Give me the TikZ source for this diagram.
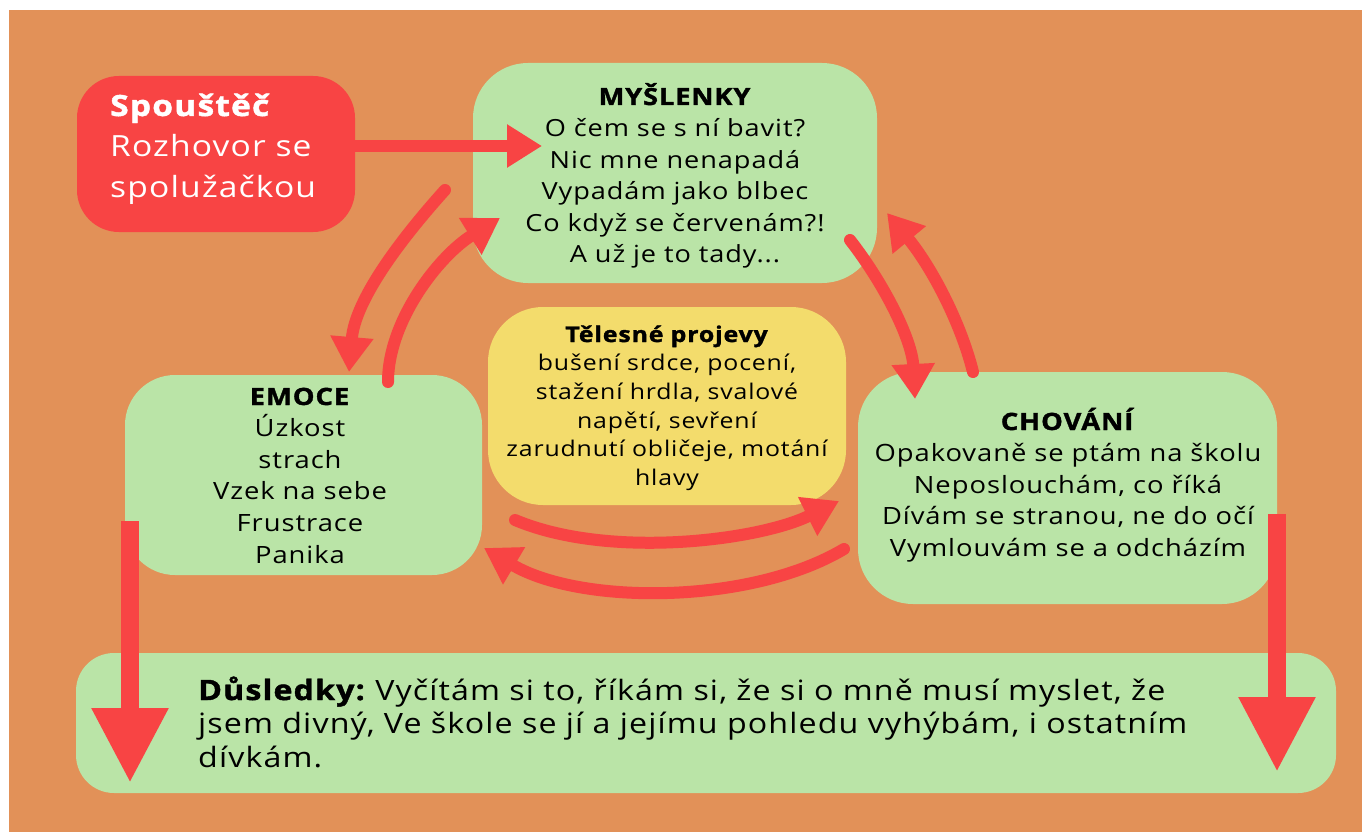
\documentclass[tikz,border=0pt]{standalone}
\usepackage{fontspec}
\setmainfont{Open Sans}[FakeStretch=1.15, LetterSpace=4, BoldFeatures={FakeBold=1.5}]
\usetikzlibrary{arrows.meta}
\definecolor{bgor}{RGB}{226,145,88}
\definecolor{rd}{RGB}{248,68,68}
\definecolor{gr}{RGB}{186,228,167}
\definecolor{yl}{RGB}{243,220,108}
\tikzset{
  box/.style={inner sep=0pt, draw=none},
  txt/.style={anchor=base, align=center, inner sep=0pt, text=black},
  carrow/.style={draw=rd, line width=12pt, line cap=round, -{Triangle[length=35pt,width=41pt]}},
  varrow/.style={draw=rd, line width=18pt, -{Triangle[length=75pt,width=72pt]}},
}
\frenchspacing
\begin{document}
\begin{tikzpicture}[x=1pt,y=-1pt]
\useasboundingbox (0,0) rectangle (1362,832);
\fill[white] (0,0) rectangle (1362,832);
\fill[bgor] (9,10) rectangle (1362,832);

% boxes
\node[box, fill=rd, rounded corners=42pt, minimum width=278pt, minimum height=156pt] (spo) at (216,154) {};
\node[box, fill=gr, rounded corners=55pt, minimum width=404pt, minimum height=220pt] (mys) at (675,173) {};
\node[box, fill=yl, rounded corners=55pt, minimum width=358pt, minimum height=198pt] (tel) at (667,406) {};
\node[box, fill=gr, rounded corners=50pt, minimum width=357pt, minimum height=200pt] (emo) at (303.5,475) {};
\node[box, fill=gr, rounded corners=55pt, minimum width=419pt, minimum height=232pt] (cho) at (1067.5,488) {};
\node[box, fill=gr, rounded corners=38pt, minimum width=1260pt, minimum height=140pt] (dus) at (706,723) {};

% connector end points
\coordinate (a1s) at (355,146);  \coordinate (a1e) at (542,146);
\coordinate (a2s) at (445,190);  \coordinate (a2e) at (349,372);
\coordinate (a3s) at (388,382);  \coordinate (a3e) at (500,218);
\coordinate (a4s) at (850,240);  \coordinate (a4e) at (915,399);
\coordinate (a5s) at (973,372);  \coordinate (a5e) at (887,213);
\coordinate (a6s) at (515,520);  \coordinate (a6e) at (839,501);
\coordinate (a7s) at (844,549);  \coordinate (a7e) at (484,548);
\coordinate (a8s) at (130,521);  \coordinate (a8e) at (130,783);
\coordinate (a9s) at (1277,514); \coordinate (a9e) at (1277,772);

% connectors
\draw[carrow] (a1s) -- (a1e);
\draw[carrow] (a2s) .. controls (400,240) and (355,300) .. (a2e);
\draw[carrow] (a3s) .. controls (388,320) and (440,255) .. (a3e);
\draw[carrow] (a4s) .. controls (885,285) and (912,340) .. (a4e);
\draw[carrow] (a5s) .. controls (960,320) and (930,265) .. (a5e);
\draw[carrow] (a6s) .. controls (610,560) and (760,540) .. (a6e);
\draw[carrow] (a7s) .. controls (750,605) and (580,605) .. (a7e);
\draw[varrow] (a8s) -- (a8e);
\draw[varrow] (a9s) -- (a9e);

% texts
\node[anchor=base west, align=left, inner sep=0pt, text width=260pt, text=white,
      font=\fontsize{29.2}{41}\selectfont] (spoT) at (110,116)
  {\textbf{Spouštěč}\\Rozhovor se\\spolužačkou};

\node[txt, text width=400pt, font=\fontsize{23.6}{31.6}\selectfont] (mysT) at (675,105)
  {\textbf{MYŠLENKY}\\O čem se s ní bavit?\\Nic mne nenapadá\\Vypadám jako blbec\\Co když se červenám?!\\A už je to tady...};

\node[txt, text width=350pt, font=\fontsize{21.6}{28.7}\selectfont] (telT) at (667,342)
  {\textbf{Tělesné projevy}\\bušení srdce, pocení,\\stažení hrdla, svalové\\napětí, sevření\\zarudnutí obličeje, motání\\hlavy};

\node[txt, text width=350pt, font=\fontsize{23.8}{31.6}\selectfont] (emoT) at (300,405)
  {\textbf{EMOCE}\\Úzkost\\strach\\Vzek na sebe\\Frustrace\\Panika};

\node[txt, text width=410pt, font=\fontsize{23.8}{31.6}\selectfont] (choT) at (1068,430)
  {\textbf{CHOVÁNÍ}\\Opakovaně se ptám na školu\\Neposlouchám, co říká\\Dívám se stranou, ne do očí\\Vymlouvám se a odcházím};

\node[anchor=base west, align=left, inner sep=0pt, text width=1100pt, text=black,
      font=\fontsize{28}{33.5}\selectfont] (dusT) at (198,700)
  {\textbf{Důsledky:} Vyčítám si to, říkám si, že si o mně musí myslet, že\\jsem divný, Ve škole se jí a jejímu pohledu vyhýbám, i ostatním\\dívkám.};
\end{tikzpicture}
\end{document}
